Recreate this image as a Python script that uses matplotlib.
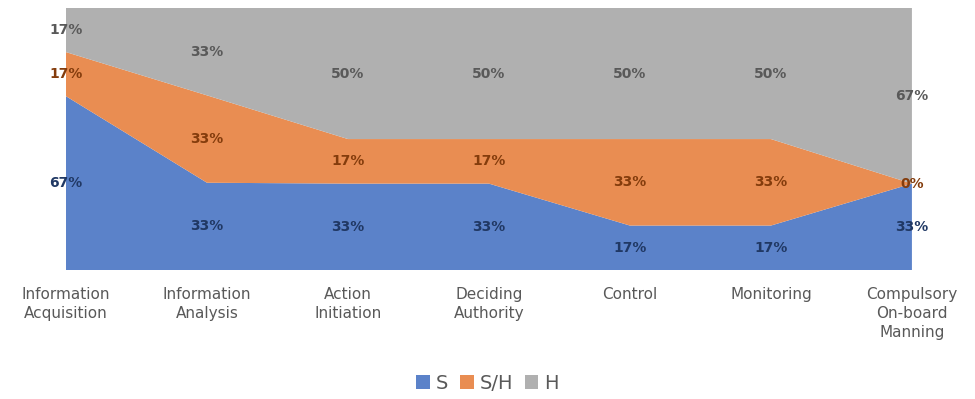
import numpy as np
import matplotlib
matplotlib.use("Agg")
import matplotlib.pyplot as plt
from matplotlib.patches import Patch

plt.rcParams['font.family'] = ['DejaVu Sans']

categories = ["Information\nAcquisition", "Information\nAnalysis", "Action\nInitiation",
              "Deciding\nAuthority", "Control", "Monitoring", "Compulsory\nOn-board\nManning"]
s_vals = [67, 33, 33, 33, 17, 17, 33]
sh_vals = [17, 33, 17, 17, 33, 33, 0]
h_vals = [17, 33, 50, 50, 50, 50, 67]
series_names = ["S", "S/H", "H"]

colors = ["#5B82C9", "#E98D52", "#B0B0B0"]
label_colors = ["#203864", "#843C0C", "#595959"]

data = np.array([s_vals, sh_vals, h_vals], dtype=float)
pct = data / data.sum(axis=0) * 100
x = np.arange(len(categories))

fig = plt.figure(figsize=(9.75, 3.99), dpi=100)
ax = fig.add_axes([0.0677, 0.323, 0.8676, 0.657])

ax.stackplot(x, pct, colors=colors, linewidth=0)

bottom = np.zeros(len(categories))
for k in range(3):
    mid = bottom + pct[k] / 2
    for i in range(len(categories)):
        ax.text(x[i], mid[i], f"{int(data[k][i])}%", ha='center', va='center',
                fontsize=10, fontweight='bold', color=label_colors[k], clip_on=False)
    bottom += pct[k]

ax.set_xlim(x[0], x[-1])
ax.set_ylim(0, 100)
ax.set_yticks([])
ax.set_xticks(x)
ax.set_xticklabels(categories, fontsize=11, color="#595959", va='top', linespacing=1.35)
ax.tick_params(axis='x', length=0, pad=12)
for sp in ax.spines.values():
    sp.set_visible(False)

handles = [Patch(facecolor=c, label=n) for c, n in zip(colors, series_names)]
fig.legend(handles=handles, loc='center', bbox_to_anchor=(0.5, 0.04), ncol=3, frameon=False,
           fontsize=14, handlelength=0.7, handleheight=0.7, handletextpad=0.3, columnspacing=0.6,
           labelcolor="#595959")

fig.savefig("out.png", dpi=100)
